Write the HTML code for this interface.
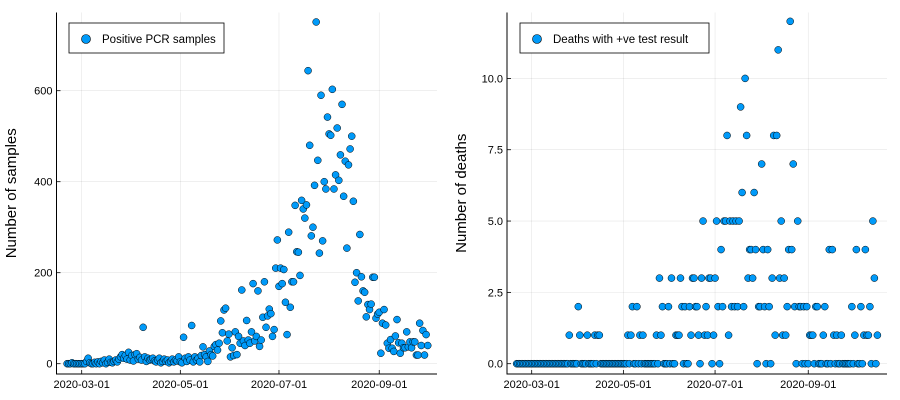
<!DOCTYPE html>
<html><head><meta charset="utf-8"><style>
body{margin:0;background:#fff;}
svg{display:block;font-family:"Liberation Sans",sans-serif;}
</style></head><body>
<svg id="chart" width="900" height="400" xmlns="http://www.w3.org/2000/svg"></svg>
<script>
// Left panel data: daily positive PCR samples starting 2020-02-21
const casesStart = "2020-02-21";
const casesValues = [
0,0,0,2,0,0,0,0,0,0,
0,0,5,12,2,0,0,3,0,4,
0,5,2,8,0,3,10,3,2,5,
8,4,10,15,20,12,18,10,25,8,
18,6,20,22,10,14,8,80,15,5,
12,8,10,12,6,4,8,12,2,5,
10,5,8,2,5,10,4,8,6,15,
4,2,58,12,5,15,8,84,4,15,
8,12,4,18,37,20,15,5,28,20,
17,38,42,30,45,94,68,118,122,50,
65,15,35,18,70,20,60,45,162,50,
40,95,52,45,70,176,50,60,160,38,
52,102,180,80,105,120,110,60,75,210,
272,170,210,176,207,135,64,289,124,180,
180,348,246,245,194,359,340,320,349,644,
480,281,300,392,751,447,243,590,270,400,
384,542,505,502,603,384,415,518,403,459,
570,368,445,254,437,472,500,357,179,200,
138,284,191,160,157,103,130,119,131,190,
190,100,109,113,23,89,119,85,45,34,
53,34,27,61,97,46,23,45,35,35,
70,37,48,35,48,48,19,19,89,40,
73,19,64,40];
const casesTicks = ["2020-03-01","2020-05-01","2020-07-01","2020-09-01"];
const casesYTicks = [0,200,400,600];

// Right panel data: daily deaths starting 2020-02-20
const deathsStart = "2020-02-20";
const deathsValues = [
0,0,0,0,0,0,0,0,0,0,
0,0,0,0,0,0,0,0,0,0,
0,0,0,0,0,0,0,0,0,0,
0,0,0,0,0,1,0,0,0,0,
0,2,1,0,0,0,0,1,0,0,
0,0,1,0,1,1,0,0,0,0,
0,0,0,0,0,0,0,0,0,0,
0,0,0,0,1,0,1,2,0,0,
2,0,1,0,1,0,0,0,0,0,
0,0,0,1,0,3,1,2,0,0,
0,2,0,3,0,0,1,1,1,3,
2,0,2,0,0,2,1,3,3,2,
2,1,0,3,5,1,2,1,3,3,
0,1,3,5,2,0,4,2,5,5,
8,1,5,2,5,2,5,2,5,9,
6,2,10,8,3,4,4,3,6,4,
0,2,2,7,4,2,0,4,2,0,
3,8,1,8,11,3,5,1,3,1,
2,4,12,4,7,2,0,5,2,2,
0,2,0,2,0,1,1,1,0,2,
2,0,0,0,1,2,0,0,4,0,
4,1,0,1,0,0,1,0,0,0,
0,0,0,2,0,1,4,0,0,2,
0,1,4,1,1,2,0,5,3,0,
1];
const deathsTicks = ["2020-03-01","2020-05-01","2020-07-01","2020-09-01"];
const deathsYTicks = [0,2.5,5,7.5,10];

const NS="http://www.w3.org/2000/svg";
const svg=document.getElementById('chart');
function mk(tag,attrs,parent){const e=document.createElementNS(NS,tag);for(const k in attrs)e.setAttribute(k,attrs[k]);(parent||svg).appendChild(e);return e;}
const DAY=86400000;
function dayOf(s){const p=s.split('-');return Date.UTC(+p[0],+p[1]-1,+p[2])/DAY;}
const ref=dayOf("2020-03-01");

function panel(cfg){
  const g=mk('g',{});
  
  
  const xs=d=>cfg.x0+cfg.ppd*(d-ref);
  const ys=v=>cfg.y0-cfg.ppu*v;
  // grid
  cfg.xticks.forEach(t=>{
    const x=xs(dayOf(t));
    const l=mk('line',{x1:x,x2:x,y1:cfg.top,y2:cfg.bottom,stroke:'#000','stroke-opacity':0.1,'stroke-width':0.6},g);
    
    
    const tk=mk('line',{x1:x,x2:x,y1:cfg.bottom,y2:cfg.bottom-4,stroke:'#000','stroke-width':0.8},g);
    
    
    const tx=mk('text',{x:x,y:cfg.bottom+14,'font-size':11,'text-anchor':'middle',fill:'#000'},g);
    tx.textContent=t;
    
    
  });
  cfg.yticks.forEach(v=>{
    const y=ys(v);
    const l=mk('line',{x1:cfg.left,x2:cfg.right,y1:y,y2:y,stroke:'#000','stroke-opacity':0.1,'stroke-width':0.6},g);
    
    
    const tk=mk('line',{x1:cfg.left,x2:cfg.left+4,y1:y,y2:y,stroke:'#000','stroke-width':0.8},g);
    
    
    const tx=mk('text',{x:cfg.left-4,y:y+4,'font-size':11,'text-anchor':'end',fill:'#000'},g);
    tx.textContent=cfg.fmt(v);
    
    
  });
  const ax=mk('path',{d:`M${cfg.left},${cfg.top}V${cfg.bottom}H${cfg.right}`,fill:'none',stroke:'#000','stroke-width':1},g);
  
  
  const yt=mk('text',{x:0,y:0,'font-size':15,'text-anchor':'middle',transform:`translate(${cfg.titleX},${(cfg.top+cfg.bottom)/2}) rotate(-90)`},g);
  yt.textContent=cfg.ytitle;
  
  
  const s0=dayOf(cfg.start);
  cfg.values.forEach((v,i)=>{
    const c=mk('circle',{cx:xs(s0+i),cy:ys(v),r:3.5,fill:'#009af9',stroke:'#000','stroke-width':0.5},g);
    
    
  });
  const lg=mk('g',{},g);
  
  
  const r=mk('rect',{x:cfg.lgx,y:23,width:cfg.lgw,height:30,fill:'#fff',stroke:'#000','stroke-width':0.8},lg);
  
  
  const lc=mk('circle',{cx:cfg.lgx+17,cy:39,r:4.5,fill:'#009af9',stroke:'#000','stroke-width':0.6},lg);
  
  
  const lt=mk('text',{x:cfg.lgx+33,y:43,'font-size':11.5},lg);
  lt.textContent=cfg.label;
  
  
}
panel({name:'cases-panel',x0:81.7,ppd:1.617,y0:363.7,ppu:0.455,left:56.5,right:437,top:12.5,bottom:374,
  xticks:casesTicks,yticks:casesYTicks,fmt:v=>String(v),ytitle:'Number of samples',titleX:16,
  start:casesStart,values:casesValues,lgx:69,lgw:155,label:'Positive PCR samples'});
panel({name:'deaths-panel',x0:531.7,ppd:1.503,y0:363.7,ppu:28.53,left:507,right:887,top:12.5,bottom:374,
  xticks:deathsTicks,yticks:deathsYTicks,fmt:v=>v.toFixed(1),ytitle:'Number of deaths',titleX:466,
  start:deathsStart,values:deathsValues,lgx:520,lgw:189,label:'Deaths with +ve test result'});
</script>
</body></html>
